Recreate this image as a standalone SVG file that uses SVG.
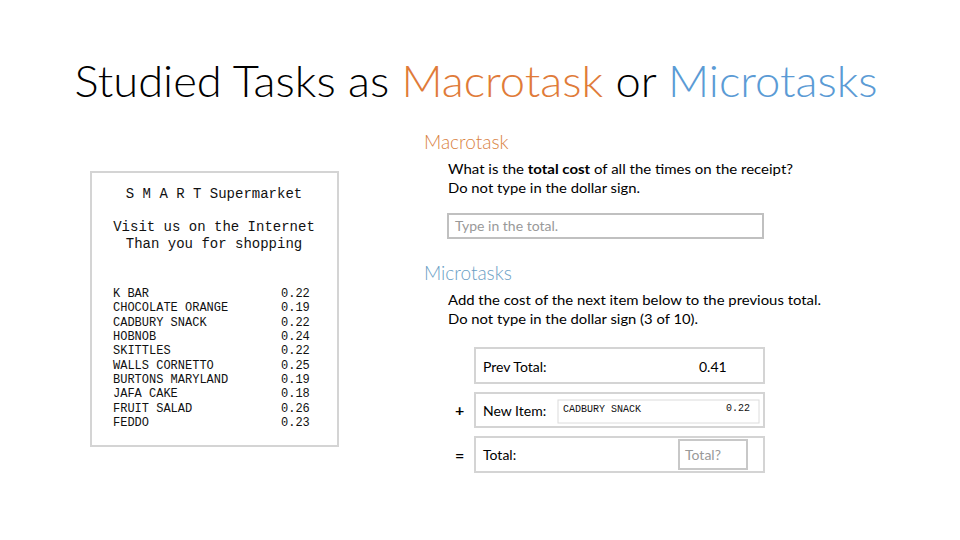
<svg xmlns="http://www.w3.org/2000/svg" width="960" height="540" viewBox="0 0 960 540">
<style>
.t{font-family:Lato,"Open Sans","Liberation Sans",sans-serif;fill:#000}
.m{font-family:"Liberation Mono","DejaVu Sans Mono",monospace;fill:#111}
.box{fill:#fff;stroke:#d4d4d4;stroke-width:2}
.ph{fill:#a0a0a0}
</style>
<rect width="960" height="540" fill="#fff"/>
<g id="title">
<text class="t" x="476" y="97" font-size="44" font-weight="300" text-anchor="middle" textLength="803" lengthAdjust="spacingAndGlyphs">Studied Tasks as <tspan fill="#E07B39">Macrotask</tspan> or <tspan fill="#5B9BD5">Microtasks</tspan></text>
</g>
<g id="receipt">
<rect class="box" x="91" y="172" width="247" height="274"/>
<text class="m" font-size="14" x="214" y="198" text-anchor="middle">S M A R T Supermarket</text>
<text class="m" font-size="14" x="214" y="231" text-anchor="middle">Visit us on the Internet</text>
<text class="m" font-size="14" x="214" y="248" text-anchor="middle">Than you for shopping</text>
<g font-size="12">
<text class="m" x="113" y="297">K BAR</text>
<text class="m" x="113" y="311">CHOCOLATE ORANGE</text>
<text class="m" x="113" y="326">CADBURY SNACK</text>
<text class="m" x="113" y="340">HOBNOB</text>
<text class="m" x="113" y="354">SKITTLES</text>
<text class="m" x="113" y="369">WALLS CORNETTO</text>
<text class="m" x="113" y="383">BURTONS MARYLAND</text>
<text class="m" x="113" y="397">JAFA CAKE</text>
<text class="m" x="113" y="412">FRUIT SALAD</text>
<text class="m" x="113" y="426">FEDDO</text>
<text class="m" x="281" y="297">0.22</text>
<text class="m" x="281" y="311">0.19</text>
<text class="m" x="281" y="326">0.22</text>
<text class="m" x="281" y="340">0.24</text>
<text class="m" x="281" y="354">0.22</text>
<text class="m" x="281" y="369">0.25</text>
<text class="m" x="281" y="383">0.19</text>
<text class="m" x="281" y="397">0.18</text>
<text class="m" x="281" y="412">0.26</text>
<text class="m" x="281" y="426">0.23</text>
</g>
</g>
<g id="macrotask">
<text class="t" x="424" y="149" font-size="19" font-weight="300" fill="#D9823F" style="fill:#D9823F">Macrotask</text>
<text class="t" x="448" y="174" font-size="14" textLength="345" lengthAdjust="spacingAndGlyphs">What is the <tspan font-weight="bold">total cost</tspan> of all the times on the receipt?</text>
<text class="t" x="448" y="193" font-size="14" textLength="192" lengthAdjust="spacingAndGlyphs">Do not type in the dollar sign.</text>
<rect x="448" y="214" width="315" height="24" fill="#fff" stroke="#c0c0c0" stroke-width="2"/>
<text class="t ph" x="455" y="231" font-size="14" style="fill:#999">Type in the total.</text>
</g>
<g id="microtasks">
<text class="t" x="424" y="280" font-size="19" font-weight="300" style="fill:#6A9EC4">Microtasks</text>
<text class="t" x="448" y="305" font-size="14" textLength="373" lengthAdjust="spacingAndGlyphs">Add the cost of the next item below to the previous total.</text>
<text class="t" x="448" y="324" font-size="14" textLength="250" lengthAdjust="spacingAndGlyphs">Do not type in the dollar sign (3 of 10).</text>
</g>
<g id="prev-total">
<rect class="box" x="475" y="348" width="289" height="35"/>
<text class="t" x="483" y="372" font-size="14">Prev Total:</text>
<text class="t" x="699" y="372" font-size="14">0.41</text>
</g>
<g id="new-item">
<text class="t" x="455" y="416" font-size="16" font-weight="bold">+</text>
<rect class="box" x="475" y="393" width="289" height="34"/>
<text class="t" x="483" y="416" font-size="14">New Item:</text>
<rect x="558" y="400" width="201" height="23" fill="#fff" stroke="#dcdcdc" stroke-width="1"/>
<text class="m" x="563" y="412" font-size="10">CADBURY SNACK</text>
<text class="m" x="750" y="411" font-size="10" text-anchor="end">0.22</text>
</g>
<g id="total">
<text class="t" x="455" y="461" font-size="16" font-weight="bold">=</text>
<rect class="box" x="475" y="437" width="289" height="35"/>
<text class="t" x="483" y="460" font-size="14">Total:</text>
<rect x="679" y="440" width="68" height="29" fill="#fff" stroke="#c8c8c8" stroke-width="2"/>
<text class="t" x="685" y="460" font-size="14" style="fill:#999">Total?</text>
</g>
</svg>
